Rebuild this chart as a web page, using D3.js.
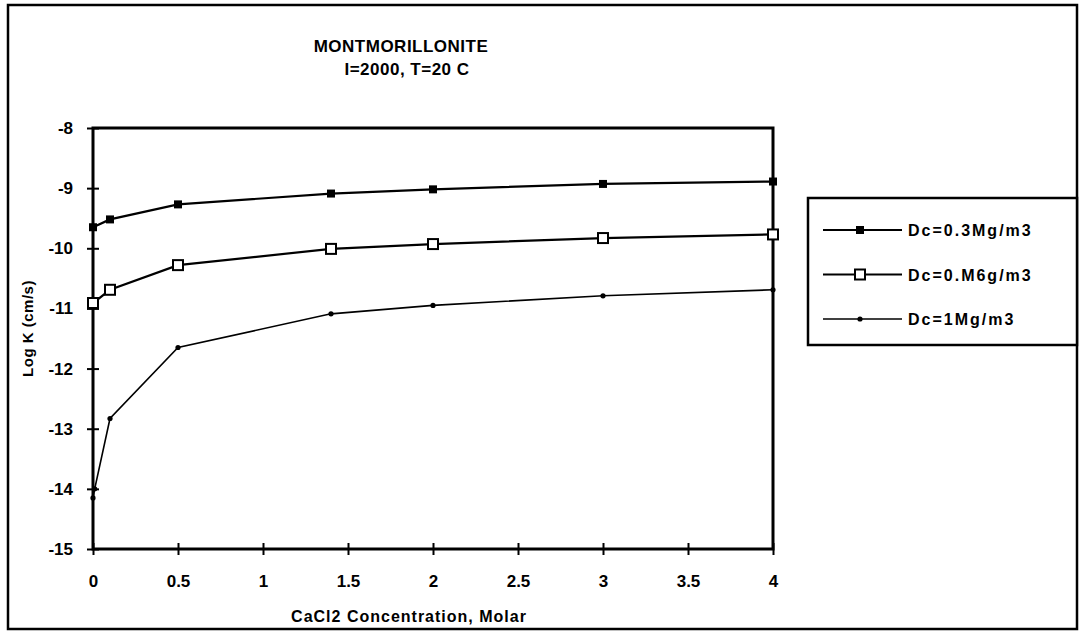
<!DOCTYPE html>
<html>
<head>
<meta charset="utf-8">
<script src="https://cdn.jsdelivr.net/npm/d3@7"></script>
<style>
  body { margin: 0; background: #fff; }
  text { font-family: "Liberation Sans", Arial, sans-serif; font-weight: bold; fill: #000; }
</style>
</head>
<body>
<div id="chart"></div>
<script>
// data
const seriesNames = ["Dc=0.3Mg/m3", "Dc=0.M6g/m3", "Dc=1Mg/m3"];
const conc03 = [0, 0.1, 0.5, 1.4, 2, 3, 4];
const logK03 = [-9.65, -9.52, -9.27, -9.09, -9.02, -8.93, -8.89];
const concM6 = [0, 0.1, 0.5, 1.4, 2, 3, 4];
const logKM6 = [-10.91, -10.69, -10.28, -10.01, -9.93, -9.83, -9.77];
const conc1 = [0, 0.01, 0.1, 0.5, 1.4, 2, 3, 4];
const logK1 = [-14.15, -14.0, -12.83, -11.65, -11.09, -10.95, -10.79, -10.69];
const xTicks = [0, 0.5, 1, 1.5, 2, 2.5, 3, 3.5, 4];
const yTicks = [-8, -9, -10, -11, -12, -13, -14, -15];

const W = 1080, H = 633;
const margin = {top: 128, right: 307, bottom: 84, left: 93};
const width = W - margin.left - margin.right,
      height = H - margin.top - margin.bottom;

const root = d3.select("#chart").append("svg")
  .attr("width", W)
  .attr("height", H);

// outer frame
root.append("rect")
  .attr("x", 8).attr("y", 5)
  .attr("width", 1069).attr("height", 624)
  .attr("fill", "none").attr("stroke", "#000").attr("stroke-width", 2.5);

// title
root.append("text").attr("x", 401).attr("y", 52)
  .attr("text-anchor", "middle").style("font-size", "17px").style("letter-spacing", "0.5px")
  .text("MONTMORILLONITE");
root.append("text").attr("x", 407).attr("y", 75)
  .attr("text-anchor", "middle").style("font-size", "17px").style("letter-spacing", "0.5px")
  .text("I=2000, T=20 C");

const svg = root.append("g")
  .attr("transform", `translate(${margin.left},${margin.top})`);

const x = d3.scaleLinear().domain([0, 4]).range([0, width]);
const y = d3.scaleLinear().domain([-15, -8]).range([height, 0]);

// plot frame
svg.append("rect")
  .attr("width", width).attr("height", height)
  .attr("fill", "none").attr("stroke", "#000").attr("stroke-width", 3);

// axes (ticks cross the line)
const xAxis = svg.append("g")
  .attr("transform", `translate(0,${height})`)
  .call(d3.axisBottom(x).tickValues(xTicks).tickSize(6).tickPadding(20)
    .tickFormat(d => String(d)));
xAxis.select(".domain").remove();
xAxis.selectAll(".tick line").attr("y1", -6).attr("stroke-width", 2);
xAxis.selectAll("text").style("font-size", "17px");

const yAxis = svg.append("g")
  .call(d3.axisLeft(y).tickValues(yTicks).tickSize(6).tickPadding(14)
    .tickFormat(d => String(d)));
yAxis.select(".domain").remove();
yAxis.selectAll(".tick line").attr("x1", -6).attr("x2", 6).attr("stroke-width", 2);
yAxis.selectAll("text").style("font-size", "17px");

// axis labels
svg.append("text")
  .attr("text-anchor", "middle")
  .attr("x", 316).attr("y", height + 73)
  .style("font-size", "16px").style("letter-spacing", "1px")
  .text("CaCl2 Concentration, Molar");

svg.append("text")
  .attr("text-anchor", "middle")
  .attr("transform", "rotate(-90)")
  .attr("x", -(height / 2) + 10).attr("y", -60)
  .style("font-size", "15px").style("letter-spacing", "0.5px")
  .text("Log K (cm/s)");

// lines and markers
const series = [
  {name: seriesNames[0], xs: conc03, ys: logK03, width: 2.2, marker: "filled"},
  {name: seriesNames[1], xs: concM6, ys: logKM6, width: 2.2, marker: "open"},
  {name: seriesNames[2], xs: conc1, ys: logK1, width: 1.6, marker: "dot"}
];

const line = d3.line().x(d => x(d[0])).y(d => y(d[1]));

function drawMarker(g, kind) {
  if (kind === "filled") {
    g.append("rect").attr("x", -4).attr("y", -4).attr("width", 8).attr("height", 8)
      .attr("fill", "#000");
  } else if (kind === "open") {
    g.append("rect").attr("x", -5).attr("y", -5).attr("width", 10).attr("height", 10)
      .attr("fill", "#fff").attr("stroke", "#000").attr("stroke-width", 2);
  } else {
    g.append("circle").attr("r", 2.6).attr("fill", "#000");
  }
}

series.forEach(s => {
  const pts = s.xs.map((v, i) => [v, s.ys[i]]);
  svg.append("path").datum(pts)
    .attr("d", line)
    .attr("fill", "none").attr("stroke", "#000").attr("stroke-width", s.width);
  svg.selectAll(null).data(pts).enter().append("g")
    .attr("transform", d => `translate(${x(d[0])},${y(d[1])})`)
    .each(function() { drawMarker(d3.select(this), s.marker); });
});

// legend
const legend = root.append("g").attr("transform", "translate(808,198)");
legend.append("rect")
  .attr("width", 269).attr("height", 147)
  .attr("fill", "#fff").attr("stroke", "#000").attr("stroke-width", 2.5);

const items = legend.selectAll(".legend")
  .data(series)
  .enter().append("g")
  .attr("class", "legend")
  .attr("transform", (d, i) => `translate(0,${32 + i * 44.5})`);

items.append("line")
  .attr("x1", 15).attr("x2", 94)
  .attr("stroke", "#000").attr("stroke-width", d => d.width);
items.append("g").attr("transform", "translate(52,0)")
  .each(function(d) { drawMarker(d3.select(this), d.marker); });
items.append("text")
  .attr("x", 100).attr("y", 6)
  .style("font-size", "16px").style("letter-spacing", "2px")
  .text(d => d.name);
</script>
</body>
</html>
